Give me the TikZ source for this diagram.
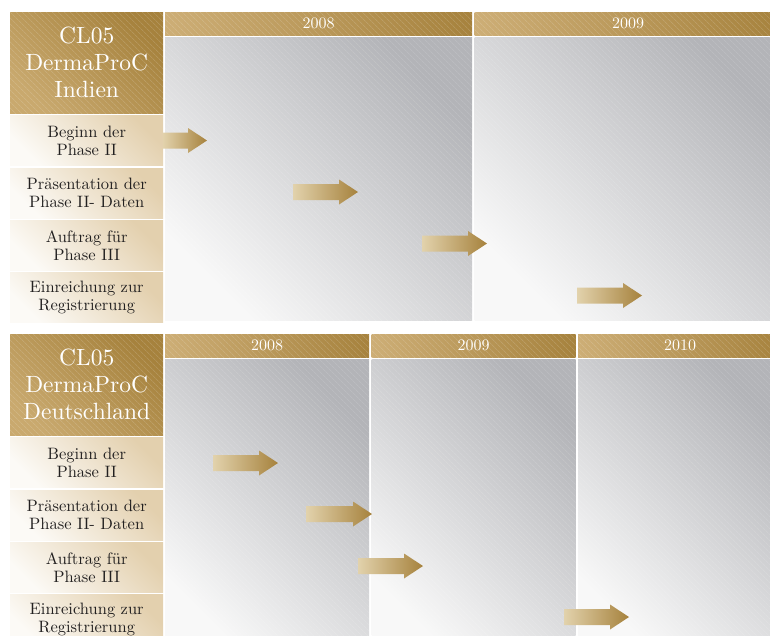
\documentclass[tikz,border=0pt]{standalone}
\usepackage{fontspec}
\setmainfont{lmroman10-regular}[Extension=.otf]
\usetikzlibrary{positioning,patterns.meta}
\definecolor{dpcGoldLight}{HTML}{CDAE76}
\definecolor{dpcGoldMid}{HTML}{B7954F}
\definecolor{dpcGoldDark}{HTML}{A6823D}
\definecolor{dpcCreamLight}{HTML}{FCFAF6}
\definecolor{dpcCreamDark}{HTML}{E3D0AE}
\definecolor{dpcGreyLight}{HTML}{F8F8F8}
\definecolor{dpcGreyMid}{HTML}{CDCED1}
\definecolor{dpcGreyDark}{HTML}{B3B4B8}
\definecolor{dpcArrowLight}{HTML}{E2D2AC}
\definecolor{dpcText}{HTML}{222020}
\begin{document}
\begin{tikzpicture}[
                x=1pt, y=-1pt,
                dpcGrain/.style={pattern={Lines[angle=-45,distance=4pt,line width=.6pt]},
                                 pattern color=white, fill opacity=.22},
                dpcDiag/.style 2 args={top color=#2,bottom color=#1,shading angle=-45},
                dpcHead/.style={rectangle,anchor=north west,inner sep=0pt,
                                minimum width=153pt,minimum height=101pt,
                                dpcDiag={dpcGoldLight!80!dpcGoldMid}{dpcGoldDark},
                                postaction={dpcGrain},
                                text=white,align=center,font=\fontsize{23.5}{27}\selectfont},
                dpcRow/.style={rectangle,inner sep=0pt,
                               minimum width=153pt,minimum height=50pt,
                               dpcDiag={dpcCreamLight}{dpcCreamDark},
                               text=dpcText,align=center,font=\fontsize{16.5}{18}\selectfont},
                dpcYear/.style={rectangle,anchor=north west,inner sep=0pt,
                                minimum height=23pt,
                                left color=dpcGoldLight,right color=dpcGoldDark,
                                postaction={dpcGrain},
                                text=white,font=\fontsize{16}{18}\selectfont},
                dpcPanel/.style={rectangle,inner sep=0pt,
                                 dpcDiag={dpcGreyLight}{dpcGreyDark},
                                 postaction={dpcGrain,fill opacity=.18}},
                dpcArrow/.style={left color=dpcArrowLight,right color=dpcGoldDark},
                pics/phaseArrow/.style={code={
                    \shade[dpcArrow] (0,-8) -- (#1-19,-8) -- (#1-19,-12.5) -- (#1,0)
                        -- (#1-19,12.5) -- (#1-19,8) -- (0,8) -- cycle;}}]
                \clip (0,0) rectangle (770,635);

                % First block: Indien, 2008 to 2009
                \node[dpcHead] (iHead) at (10,12) {CL05\\DermaProC\\Indien};
                \node[dpcRow,below=2pt of iHead] (iRow1) {Beginn der\\Phase II};
                \node[dpcRow,below=2pt of iRow1] (iRow2) {Präsentation der\\Phase II- Daten};
                \node[dpcRow,below=2pt of iRow2] (iRow3) {Auftrag für\\Phase III};
                \node[dpcRow,below=2pt of iRow3] (iRow4) {Einreichung zur\\Registrierung};

                \node[dpcYear,minimum width=307pt] (iYear1) at (165,12) {2008};
                \node[dpcYear,minimum width=307pt,right=2pt of iYear1] (iYear2) {2009};
                \node[dpcPanel,minimum width=307pt,minimum height=283pt,
                      below=2pt of iYear1] (iPanel1) {};
                \node[dpcPanel,minimum width=307pt,minimum height=283pt,
                      below=2pt of iYear2] (iPanel2) {};

                \pic (iArrow1) at (163,140.5) {phaseArrow=44};
                \pic (iArrow2) at (293,192) {phaseArrow=65};
                \pic (iArrow3) at (422,243.5) {phaseArrow=65};
                \pic (iArrow4) at (577,295.5) {phaseArrow=65};


                % Second block: Deutschland, 2008 to 2010
                \node[dpcHead] (gHead) at (10,334) {CL05\\DermaProC\\Deutschland};
                \node[dpcRow,below=2pt of gHead] (gRow1) {Beginn der\\Phase II};
                \node[dpcRow,below=2pt of gRow1] (gRow2) {Präsentation der\\Phase II- Daten};
                \node[dpcRow,below=2pt of gRow2] (gRow3) {Auftrag für\\Phase III};
                \node[dpcRow,below=2pt of gRow3] (gRow4) {Einreichung zur\\Registrierung};

                \node[dpcYear,minimum width=204pt] (gYear1) at (165,334) {2008};
                \node[dpcYear,minimum width=204pt,right=2pt of gYear1] (gYear2) {2009};
                \node[dpcYear,minimum width=204pt,right=2pt of gYear2] (gYear3) {2010};
                \foreach \col in {1,2,3}
                    \node[dpcPanel,minimum width=204pt,minimum height=290pt,
                          below=2pt of gYear\col] (gPanel\col) {};

                \pic (gArrow1) at (213,463) {phaseArrow=65};
                \pic (gArrow2) at (306,514) {phaseArrow=66};
                \pic (gArrow3) at (358,566) {phaseArrow=65};
                \pic (gArrow4) at (564,617) {phaseArrow=65};

            \end{tikzpicture}
\end{document}
